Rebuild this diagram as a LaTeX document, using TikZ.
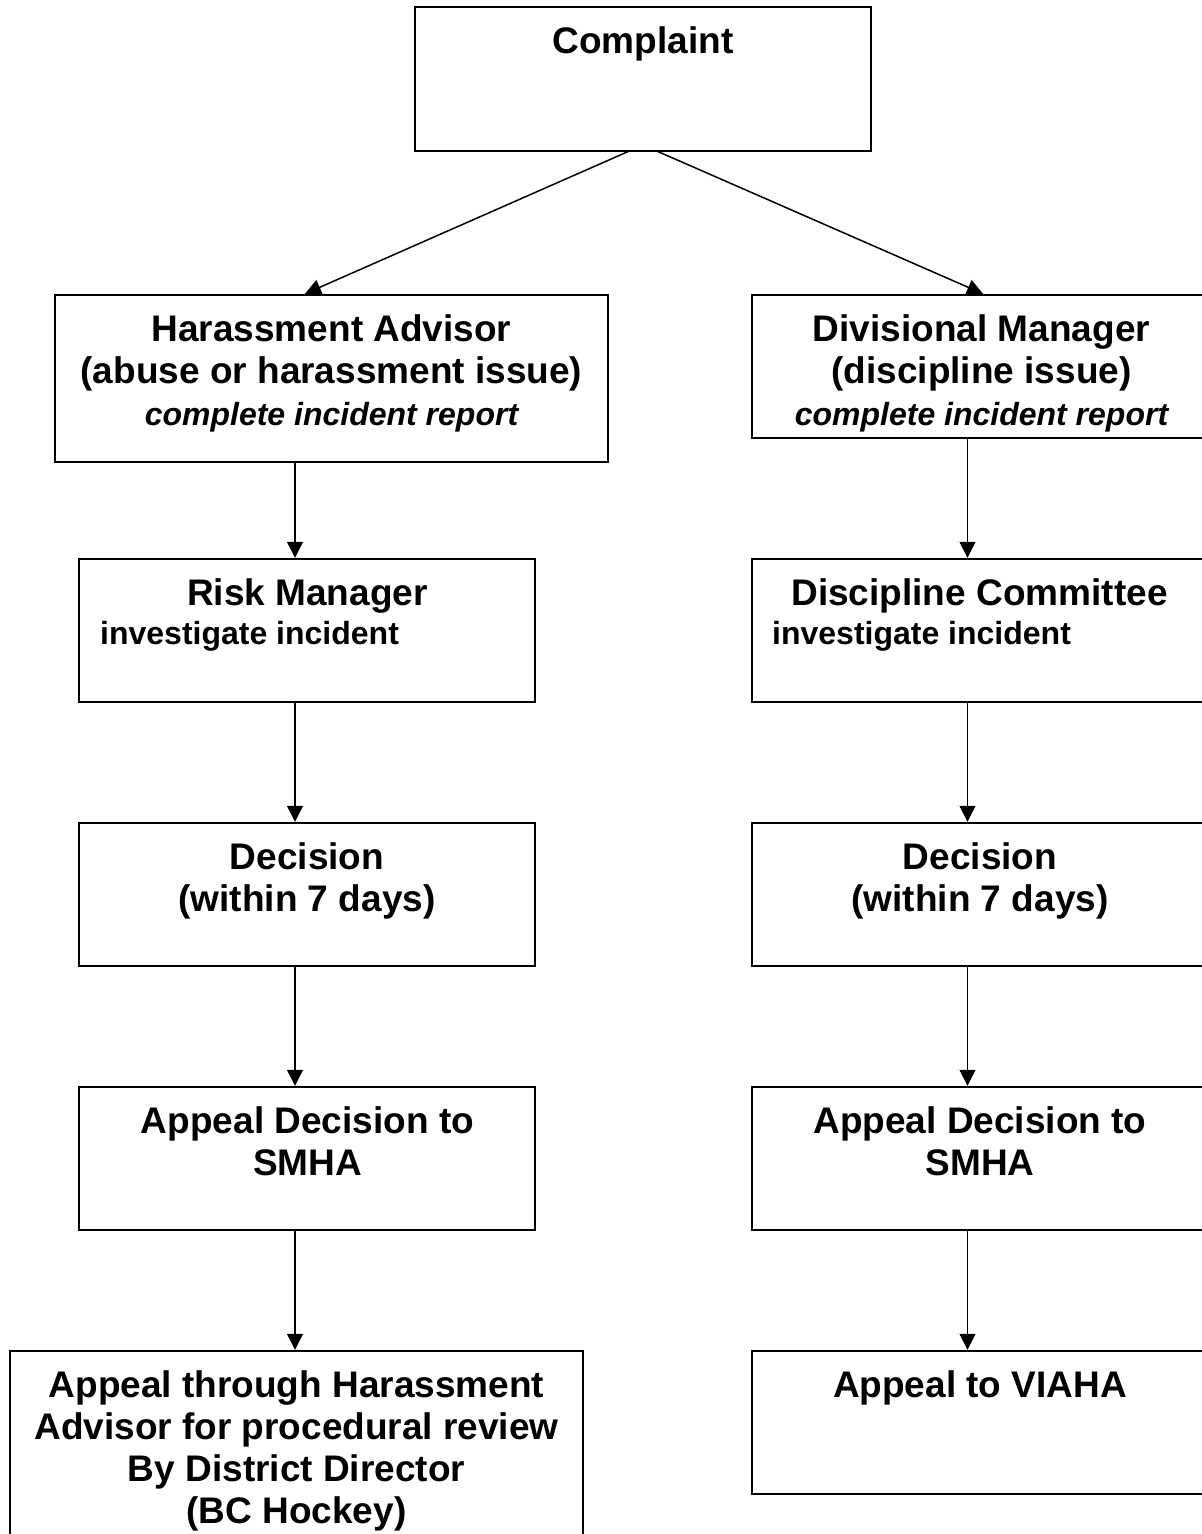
\documentclass[tikz,border=0pt]{standalone}
\usepackage{fontspec}
\setmainfont{Liberation Sans}
\usetikzlibrary{arrows.meta,calc}
\begin{document}
\begin{tikzpicture}[x=1pt,y=-1pt,
  box/.style={draw, line width=2.4pt, inner sep=0pt, rectangle, fill=white},
  colL/.style={box, minimum width=456pt, minimum height=143pt},
  colR/.style={box, minimum width=459pt, minimum height=143pt},
  big/.style={font=\fontsize{37}{42}\selectfont\bfseries, inner sep=0pt, align=center},
  small/.style={font=\fontsize{32}{40}\selectfont\bfseries, inner sep=0pt},
  arr/.style={line width=1.5pt, -{Triangle[length=16pt,width=16pt]}}]
\useasboundingbox (0,0) rectangle (1202,1534);

% helper coordinates
\coordinate (xL) at (295,0);
\coordinate (xR) at (967.5,0);
\coordinate (tL) at (305,0);
\coordinate (tR) at (983,0);
\coordinate (apex) at (643,145);

% boxes
\node[box, minimum width=553pt, minimum height=167pt] (ha) at (331.5,378.5) {};
\node[colR] (dm) at (981.5,366.5) {};
\node[colL] (rm) at (307,630.5) {};
\node[colR] (dc) at (981.5,630.5) {};
\node[colL] (d1) at (307,894.5) {};
\node[colR] (d2) at (981.5,894.5) {};
\node[colL] (a1) at (307,1158.5) {};
\node[colR] (a2) at (981.5,1158.5) {};
\node[box, minimum width=573pt, minimum height=209pt] (f1) at (296.5,1455.5) {};
\node[colR] (f2) at (981.5,1422.5) {};

% diagonal connectors from the complaint box
\draw[arr] (apex) -- (tL |- ha.north);
\draw[arr] (apex) -- (tR |- dm.north);
\node[box, minimum width=456pt, minimum height=144pt] (cp) at (643,79) {};

% texts
\node[big, anchor=north] (cpT) at (643,26.5) {Complaint};
\node[big, anchor=north] (haT) at (331.5,314.5) {Harassment Advisor\\(abuse or harassment issue)\\{\fontsize{32}{40}\selectfont\itshape complete incident report}};
\node[big, anchor=north] (dmT) at (981.5,314.5) {Divisional Manager\\(discipline issue)\\{\fontsize{32}{40}\selectfont\itshape complete incident report}};
\node[big, anchor=base] (rmT) at (307.5,605) {Risk Manager};
\node[small, anchor=base west] (rmS) at (100,644) {investigate incident};
\node[big, anchor=base] (dcT) at (979.5,605) {Discipline Committee};
\node[small, anchor=base west] (dcS) at (772,644) {investigate incident};
\node[big, anchor=north] (d1T) at (307,842.5) {Decision\\(within 7 days)};
\node[big, anchor=north] (d2T) at (980,842.5) {Decision\\(within 7 days)};
\node[big, anchor=north] (a1T) at (307.5,1106.5) {Appeal Decision to\\SMHA};
\node[big, anchor=north] (a2T) at (980,1106.5) {Appeal Decision to\\SMHA};
\node[big, anchor=north] (f1T) at (296.5,1370.5) {Appeal through Harassment\\Advisor for procedural review\\By District Director\\(BC Hockey)};
\node[big, anchor=north] (f2T) at (980,1370.5) {Appeal to VIAHA};

% vertical connectors
\draw[arr] (ha.south -| xL) -- (rm.north -| xL);
\draw[arr] (rm.south -| xL) -- (d1.north -| xL);
\draw[arr] (d1.south -| xL) -- (a1.north -| xL);
\draw[arr] (a1.south -| xL) -- (f1.north -| xL);
\draw[arr] (dm.south -| xR) -- (dc.north -| xR);
\draw[arr] (dc.south -| xR) -- (d2.north -| xR);
\draw[arr] (d2.south -| xR) -- (a2.north -| xR);
\draw[arr] (a2.south -| xR) -- (f2.north -| xR);
\end{tikzpicture}
\end{document}
